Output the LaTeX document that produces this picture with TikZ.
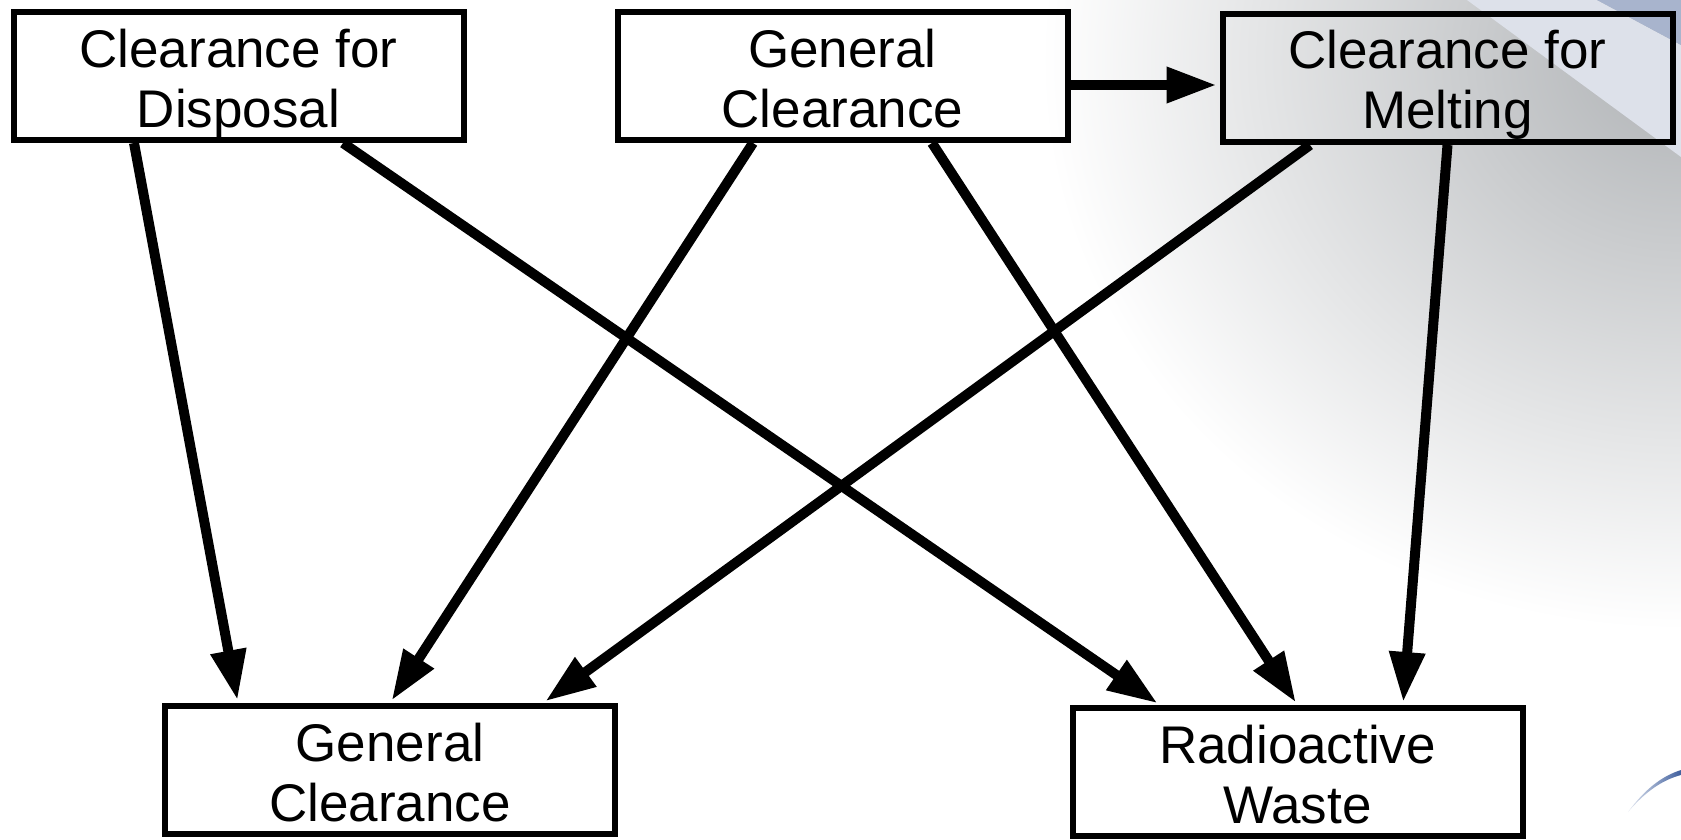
\documentclass[tikz,border=0pt]{standalone}
\usepackage{fontspec}
\setmainfont{Liberation Sans}
\usetikzlibrary{arrows.meta,calc}
\definecolor{bggray}{HTML}{B0B3B6}
\definecolor{bandlight}{HTML}{DDE1EA}
\definecolor{bandblue}{HTML}{A8B4CD}
\definecolor{swoosh}{HTML}{3F5F9E}
\begin{document}
\begin{tikzpicture}[x=0.5pt,y=-0.5pt,
  box/.style={draw=black, line width=3pt, rectangle, minimum width=225pt,
    minimum height=64pt, inner sep=0pt, align=center,
    text height=56pt, text depth=5pt,
    font=\fontsize{26.5}{30}\selectfont},
  conn/.style={line width=5pt, shorten >=1.5pt,
    -{Triangle[length=25pt,width=17pt]}}]
\useasboundingbox (0,0) rectangle (1681,840);
\fill[white] (0,0) rectangle (1681,840);
\begin{scope}
  \clip (0,0) rectangle (1681,840);
  \shade[inner color=bggray, outer color=white] (1681,60) ellipse [x radius=320pt, y radius=285pt];
  \fill[bandlight] (1467,0) -- (1597,0) -- (1681,45) -- (1681,157) -- cycle;
  \fill[bandblue] (1597,0) -- (1681,0) -- (1681,45) -- cycle;
  \shade[left color=swoosh!15, right color=swoosh] (1628,812) .. controls (1645,789) and (1662,776) .. (1681,770)
     -- (1681,775) .. controls (1662,780) and (1645,792) .. (1628,812) -- cycle;
\end{scope}

\node[box] (disp) at (238.5,76) {Clearance for\\Disposal};
\node[box] (genT) at (842.5,76) {General\\Clearance};
\node[box] (melt) at (1447.5,78) {Clearance for\\Melting};
\node[box] (genB) at (390,770) {General\\Clearance};
\node[box] (rad) at (1297.5,772) {Radioactive\\Waste};

\draw[conn] ([xshift=-52.25pt]disp.south) -- ([xshift=-76pt]genB.north);
\draw[conn] ([xshift=52.25pt]disp.south) -- ([xshift=-68.75pt]rad.north);
\draw[conn] ([xshift=-44.75pt]genT.south) -- (genB.north);
\draw[conn] ([xshift=44.75pt]genT.south) -- (rad.north);
\draw[conn] ([yshift=-4.5pt]genT.east) -- ([yshift=-4.5pt]genT.east -| melt.west);
\draw[conn] ([xshift=-68.75pt]melt.south) -- ([xshift=76.5pt]genB.north);
\draw[conn] (melt.south) -- ([xshift=52.75pt]rad.north);
\end{tikzpicture}
\end{document}
